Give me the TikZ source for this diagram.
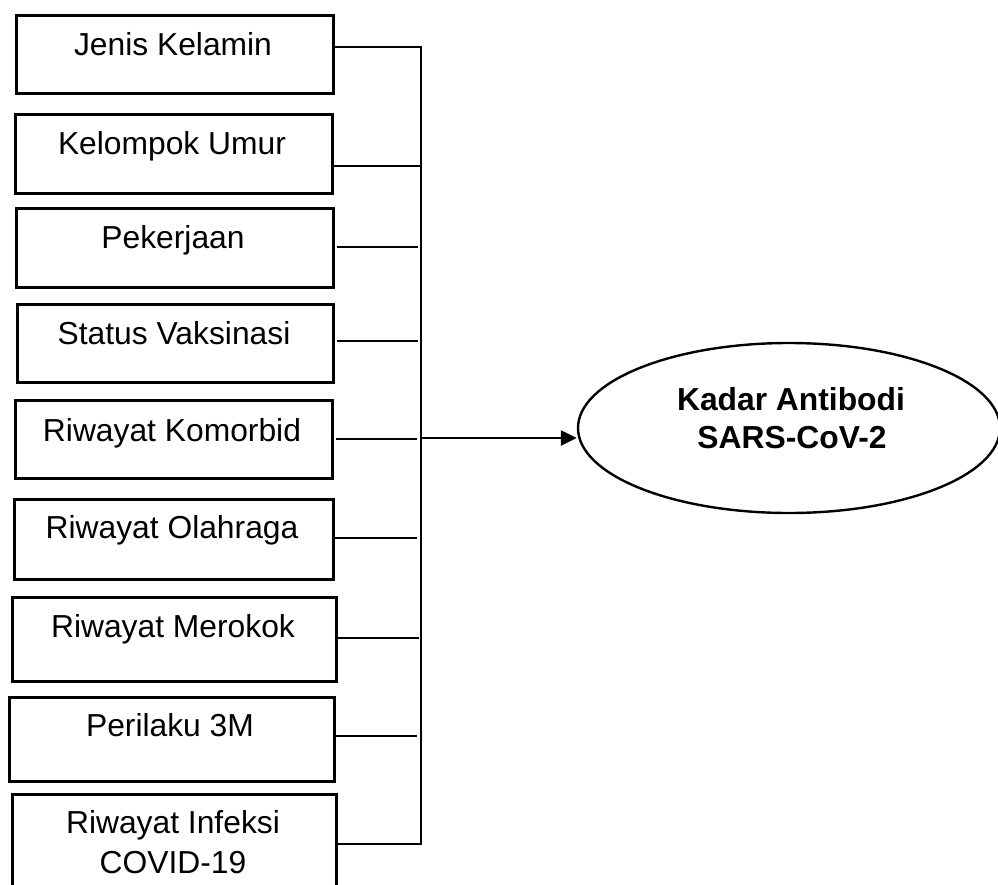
\documentclass[tikz,border=0pt]{standalone}
\usepackage{fontspec}
\setmainfont{Liberation Sans}
\usetikzlibrary{shapes.geometric,arrows.meta}
\begin{document}
\begin{tikzpicture}[x=1pt,y=-1pt,
  box/.style={draw=black,line width=2.6pt,rectangle,inner sep=0pt,anchor=north west},
  lbl/.style={anchor=base,inner sep=0pt,font=\fontsize{31.8}{38}\selectfont},
  blbl/.style={anchor=base,inner sep=0pt,font=\fontsize{31.8}{38}\selectfont\bfseries},
  conn/.style={draw=black,line width=2.4pt},
  oval/.style={draw=black,line width=2.4pt,ellipse,inner sep=0pt,minimum width=422pt,minimum height=170pt}]
\clip (0,0) rectangle (998,884);
\fill[white] (0,0) rectangle (998,884);
% boxes
\node[box,minimum width=317pt,minimum height=78pt] (b1) at (15,14) {};
\node[box,minimum width=317pt,minimum height=79pt] (b2) at (14,113) {};
\node[box,minimum width=317pt,minimum height=79pt] (b3) at (15,207) {};
\node[box,minimum width=316pt,minimum height=78pt] (b4) at (16,303) {};
\node[box,minimum width=317pt,minimum height=78pt] (b5) at (14,399) {};
\node[box,minimum width=319pt,minimum height=80pt] (b6) at (13,498) {};
\node[box,minimum width=324pt,minimum height=84pt] (b7) at (11,596) {};
\node[box,minimum width=325pt,minimum height=84pt] (b8) at (8,696) {};
\node[box,minimum width=324pt,minimum height=110pt] (b9) at (11,793) {};
% labels
\node[lbl] (t1) at (173,55) {Jenis Kelamin};
\node[lbl] (t2) at (172,154) {Kelompok Umur};
\node[lbl] (t3) at (173,248) {Pekerjaan};
\node[lbl] (t4) at (174,344) {Status Vaksinasi};
\node[lbl] (t5) at (172,441) {Riwayat Komorbid};
\node[lbl] (t6) at (172,538) {Riwayat Olahraga};
\node[lbl] (t7) at (173,637) {Riwayat Merokok};
\node[lbl] (t8) at (170,736) {Perilaku 3M};
\node[lbl] (t9a) at (173,833) {Riwayat Infeksi};
\node[lbl] (t9b) at (173,873) {COVID-19};
% junction coordinates on the bus
\coordinate (j1) at (421,47);
\coordinate (j2) at (421,166);
\coordinate (j3) at (418,247);
\coordinate (j4) at (418,341);
\coordinate (j5) at (417,439);
\coordinate (j6) at (417,538);
\coordinate (j7) at (419,638);
\coordinate (j8) at (417,736);
\coordinate (j9) at (421,844);
\coordinate (ja) at (421,438);
% ellipse
\node[oval] (e) at (789,428) {};
\node[blbl] (et1) at (791,410) {Kadar Antibodi};
\node[blbl] (et2) at (792,448) {SARS-CoV-2};
% connectors
\draw[conn] (b1.east |- j1) -- (j1);
\draw[conn] (b2.east |- j2) -- (j2);
\draw[conn] ([xshift=2pt]b3.east |- j3) -- (j3);
\draw[conn] ([xshift=2pt]b4.east |- j4) -- (j4);
\draw[conn] ([xshift=2pt]b5.east |- j5) -- (j5);
\draw[conn] (b6.east |- j6) -- (j6);
\draw[conn] (b7.east |- j7) -- (j7);
\draw[conn] (b8.east |- j8) -- (j8);
\draw[conn,line cap=rect] (b9.east |- j9) -- (j9) -- (j1) -- ([xshift=-1pt]j1);
\draw[conn,-{Triangle[length=16pt,width=15pt]}] (ja) -- (e.west |- ja);
\end{tikzpicture}
\end{document}
